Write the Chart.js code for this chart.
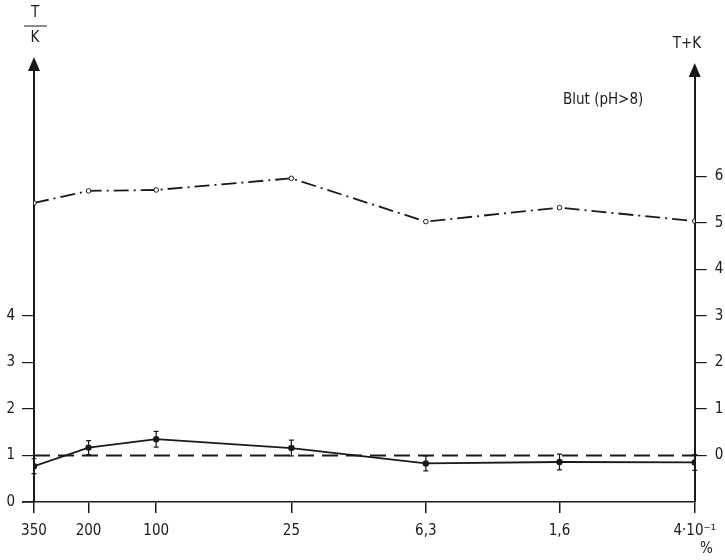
<!DOCTYPE html>
<html>
<head>
<meta charset="utf-8">
<script src="https://cdn.jsdelivr.net/npm/chart.js@4/dist/chart.umd.min.js"></script>
<style>
  html, body { margin: 0; padding: 0; background: #fff; }
  #wrap { width: 725px; height: 560px; position: relative; }
</style>
</head>
<body>
<div id="wrap"><canvas id="myChart" width="725" height="560"></canvas></div>
<script>
// concentrations (log x axis, decreasing to the right)
const concentrations = [350, 200, 100, 25, 6.3, 1.6, 0.4];
const xLabels = ['350', '200', '100', '25', '6,3', '1,6', '4·10⁻¹'];

// T/K (left axis), with error bars
const ratioTK = [0.77, 1.17, 1.35, 1.16, 0.83, 0.86, 0.85];
const ratioErr = [0.16, 0.15, 0.17, 0.17, 0.16, 0.17, 0.17];
// reference level T/K = 1
const refLevel = [1, 1, 1, 1, 1, 1, 1];
// T+K (right axis)
const sumTK = [5.43, 5.69, 5.71, 5.96, 5.03, 5.33, 5.04];

const leftTicks = [0, 1, 2, 3, 4];
const rightTicks = [0, 1, 2, 3, 4, 5, 6];

const FONT = '"DejaVu Sans Condensed", "Liberation Sans Narrow", "DejaVu Sans", sans-serif';
const INK = '#1a1a1a';

const toPts = (vals) => vals.map((v, i) => ({ x: concentrations[i], y: v }));

// error bars + arrows + loose labels
const extras = {
  id: 'extras',
  afterDatasetsDraw(chart) {
    const { ctx, scales } = chart;
    const xs = scales.x, yl = scales.y;
    const area = chart.chartArea;
    ctx.save();
    ctx.strokeStyle = INK;
    ctx.fillStyle = INK;
    ctx.lineWidth = 1.2;
    // error bars
    ratioTK.forEach((v, i) => {
      const x = xs.getPixelForValue(concentrations[i]);
      const top = yl.getPixelForValue(v + ratioErr[i]);
      const bot = yl.getPixelForValue(v - ratioErr[i]);
      ctx.beginPath();
      ctx.moveTo(x, top); ctx.lineTo(x, bot);
      ctx.moveTo(x - 2.5, top); ctx.lineTo(x + 2.5, top);
      ctx.moveTo(x - 2.5, bot); ctx.lineTo(x + 2.5, bot);
      ctx.stroke();
    });

    // left arrow
    const lx = area.left;
    ctx.beginPath();
    ctx.moveTo(lx, 57); ctx.lineTo(lx - 6, 71); ctx.lineTo(lx + 6, 71); ctx.closePath();
    ctx.fill();
    // right axis extension + arrow
    const rx = area.right;
    ctx.lineWidth = 2;
    ctx.beginPath();
    ctx.moveTo(rx, area.top); ctx.lineTo(rx, 75);
    ctx.stroke();
    ctx.beginPath();
    ctx.moveTo(rx, 63); ctx.lineTo(rx - 6, 77); ctx.lineTo(rx + 6, 77); ctx.closePath();
    ctx.fill();
    // x axis extension to the left
    ctx.lineWidth = 1.5;
    ctx.beginPath();
    ctx.moveTo(22, area.bottom); ctx.lineTo(area.left, area.bottom);
    ctx.stroke();

    // axis titles
    ctx.font = '15px ' + FONT;
    ctx.textAlign = 'center';
    ctx.textBaseline = 'middle';
    ctx.fillText('T', 35, 13);
    ctx.lineWidth = 1;
    ctx.beginPath();
    ctx.moveTo(24, 26); ctx.lineTo(47, 26);
    ctx.stroke();
    ctx.fillText('K', 35, 38);
    ctx.fillText('T+K', 687, 44);
    ctx.textAlign = 'left';
    ctx.fillText('Blut (pH>8)', 563, 100);
    ctx.fillText('%', 700, 549);
    ctx.restore();
  }
};

new Chart(document.getElementById('myChart'), {
  type: 'line',
  data: {
    datasets: [
      {
        label: 'T/K',
        data: toPts(ratioTK),
        yAxisID: 'y',
        borderColor: INK,
        backgroundColor: INK,
        borderWidth: 1.8,
        pointRadius: 2.3
      },
      {
        label: 'T/K = 1',
        data: toPts(refLevel),
        yAxisID: 'y',
        borderColor: INK,
        borderWidth: 1.8,
        borderDash: [16, 8],
        pointRadius: 0
      },
      {
        label: 'T+K',
        data: toPts(sumTK),
        yAxisID: 'y1',
        borderColor: INK,
        backgroundColor: '#fff',
        borderWidth: 1.8,
        borderDash: [15, 5, 2, 5],
        pointRadius: 2.3,
        pointBorderWidth: 1
      }
    ]
  },
  options: {
    responsive: false,
    animation: false,
    layout: { padding: { top: 70, left: 0, right: 0, bottom: 0 } },
    plugins: { legend: { display: false }, tooltip: { enabled: false } },
    scales: {
      x: {
        type: 'logarithmic',
        reverse: true,
        min: 0.4,
        max: 350,
        bounds: 'data',
        afterBuildTicks: (s) => { s.ticks = concentrations.map(v => ({ value: v })); },
        afterFit: (s) => { s.height = 58; },
        grid: { drawOnChartArea: false, drawTicks: true, tickLength: 11, tickColor: INK, lineWidth: 1.5 },
        border: { display: true, color: INK, width: 1.5 },
        ticks: {
          autoSkip: false,
          maxRotation: 0,
          padding: 9,
          color: INK,
          font: { family: FONT, size: 15 },
          callback: (v) => xLabels[concentrations.indexOf(v)]
        }
      },
      y: {
        position: 'left',
        min: 0,
        max: 9.29,
        afterBuildTicks: (s) => { s.ticks = leftTicks.map(v => ({ value: v })); },
        afterFit: (s) => { s.width = 34; },
        grid: { drawOnChartArea: false, drawTicks: true, tickLength: 12, tickColor: INK, lineWidth: 1.2 },
        border: { display: true, color: INK, width: 2 },
        ticks: { padding: 7, color: INK, font: { family: FONT, size: 15 } }
      },
      y1: {
        position: 'right',
        min: -1,
        max: 8.29,
        afterBuildTicks: (s) => { s.ticks = rightTicks.map(v => ({ value: v })); },
        afterFit: (s) => { s.width = 30; },
        grid: { drawOnChartArea: false, drawTicks: true, tickLength: 12, tickColor: INK, lineWidth: 1.2 },
        border: { display: true, color: INK, width: 2 },
        ticks: { padding: 8, color: INK, font: { family: FONT, size: 15 } }
      }
    }
  },
  plugins: [extras]
});
</script>
</body>
</html>
